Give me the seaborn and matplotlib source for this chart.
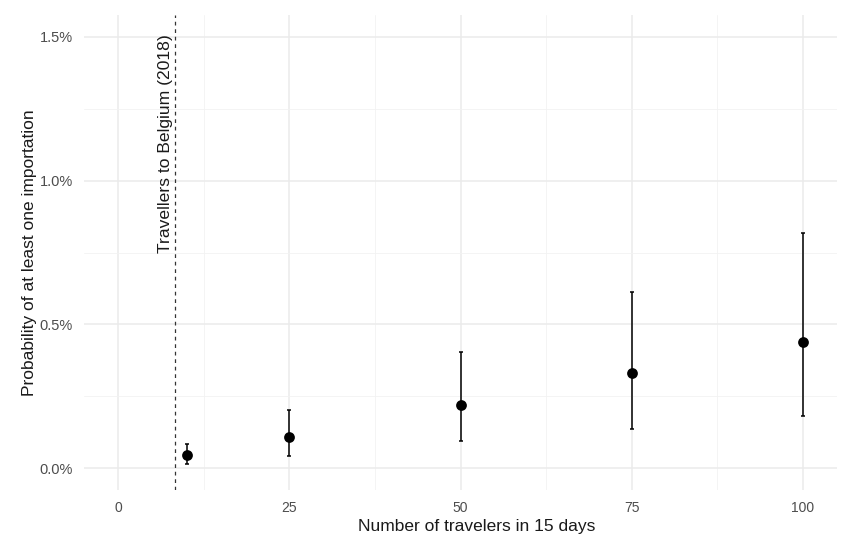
import pandas as pd
import matplotlib.pyplot as plt
import matplotlib.ticker as mticker
import seaborn as sns

# DATA (probabilities in %)
travelers = [10, 25, 50, 75, 100]
prob_mid = [0.045, 0.108, 0.220, 0.330, 0.438]
prob_low = [0.017, 0.044, 0.094, 0.136, 0.183]
prob_high = [0.084, 0.204, 0.406, 0.613, 0.817]
belgium_travelers = 8.3
vline_label = "Travellers to Belgium (2018)"

df = pd.DataFrame({"travelers": travelers, "mid": prob_mid,
                   "low": prob_low, "high": prob_high})

sns.set_theme(style="whitegrid")
plt.rcParams["font.family"] = ["Liberation Sans", "DejaVu Sans"]

fig = plt.figure(figsize=(8.64, 5.34), dpi=100)
ax = fig.add_axes([0.0972, 0.0824, 0.8716, 0.8895])

# error bars
ax.errorbar(df["travelers"], df["mid"],
            yerr=[df["mid"] - df["low"], df["high"] - df["mid"]],
            fmt="none", ecolor="black", elinewidth=1.1, capsize=1.5, capthick=1.1,
            zorder=3)

# points
sns.scatterplot(data=df, x="travelers", y="mid", color="black", s=60,
                edgecolor="black", linewidth=0, ax=ax, zorder=4)

# vertical reference line
ax.axvline(belgium_travelers, color="#333333", linestyle=(0, (3, 3)), linewidth=0.9,
           zorder=2)
ax.text(belgium_travelers - 0.3, 1.51, vline_label, rotation=90, rotation_mode="anchor",
        ha="right", va="bottom", fontsize=12.6, color="#1a1a1a")

ax.set_xlim(-5, 105)
ax.set_ylim(-0.075, 1.575)
ax.set_xticks([0, 25, 50, 75, 100])
ax.set_yticks([0, 0.5, 1.0, 1.5])
ax.xaxis.set_minor_locator(mticker.FixedLocator([12.5, 37.5, 62.5, 87.5]))
ax.yaxis.set_minor_locator(mticker.FixedLocator([0.25, 0.75, 1.25]))
ax.yaxis.set_major_formatter(mticker.FuncFormatter(lambda v, p: f"{v:.1f}%"))

ax.grid(which="major", color="#EBEBEB", linewidth=1.1)
ax.grid(which="minor", color="#F2F2F2", linewidth=0.6)
for s in ax.spines.values():
    s.set_visible(False)
ax.tick_params(axis="both", which="both", length=0, labelcolor="#4D4D4D")
ax.tick_params(axis="y", labelsize=10.5, pad=8)
ax.tick_params(axis="x", labelsize=10, pad=8)

ax.set_xlabel("Number of travelers in 15 days", fontsize=12.5, color="#1a1a1a")
ax.xaxis.set_label_coords(0.522, -0.061, transform=ax.transAxes)
ax.xaxis.label.set_va("top")
ax.set_ylabel("Probability of at least one importation", fontsize=12.5,
              color="#1a1a1a")
ax.yaxis.set_label_coords(-0.0717, 0.5, transform=ax.transAxes)
ax.yaxis.label.set_va("center")

plt.savefig("out.png", dpi=100)
